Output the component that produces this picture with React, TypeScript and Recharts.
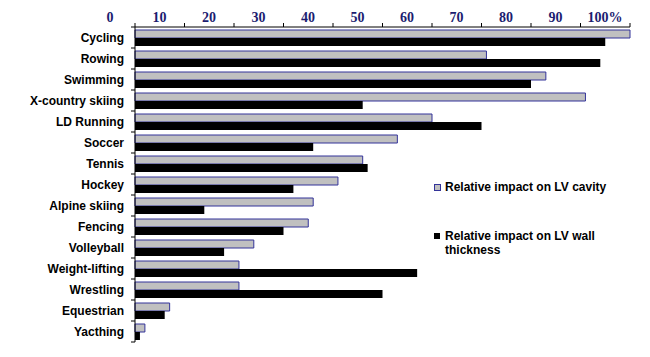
import React from "react";
import { BarChart, Bar, XAxis, YAxis } from "recharts";

// sports, top to bottom
const sports = [
    "Cycling",
    "Rowing",
    "Swimming",
    "X-country skiing",
    "LD Running",
    "Soccer",
    "Tennis",
    "Hockey",
    "Alpine skiing",
    "Fencing",
    "Volleyball",
    "Weight-lifting",
    "Wrestling",
    "Equestrian",
    "Yacthing",
];

// relative impact, % of max
const cavity = [100, 71, 83, 91, 60, 53, 46, 41, 36, 35, 24, 21, 21, 7, 2];
const wall = [95, 94, 80, 46, 70, 36, 47, 32, 14, 30, 18, 57, 50, 6, 1];

const xTicks = [0, 10, 20, 30, 40, 50, 60, 70, 80, 90, 100];

const cavityName = "Relative impact on LV cavity";
const wallName = "Relative impact on LV wall thickness";

const data = sports.map((name, i) => ({
    name,
    cavity: cavity[i],
    wall: wall[i],
}));

const NAVY = "#1c1c70";

function TopTick(props: any) {
    const { x, payload } = props;
    const v = payload.value;
    return (
        <text
            x={x - 25}
            y={22}
            textAnchor="middle"
            fill={NAVY}
            fontFamily="'Liberation Serif', 'Times New Roman', serif"
            fontWeight="bold"
            fontSize={14}
        >
            {v === 100 ? "100%" : v}
        </text>
    );
}

function SportTick(props: any) {
    const { x, y, payload, index } = props;
    const last = index === sports.length - 1;
    return (
        <g>
            <line x1={x + 7} x2={x + 11} y1={y - 10.5} y2={y - 10.5} stroke="#000" />
            {last && (
                <line x1={x + 7} x2={x + 11} y1={y + 10.5} y2={y + 10.5} stroke="#000" />
            )}
            <text
                x={x}
                y={y + 4}
                textAnchor="end"
                fill="#000"
                fontFamily="'Liberation Sans', Arial, sans-serif"
                fontWeight="bold"
                fontSize={12}
            >
                {payload.value}
            </text>
        </g>
    );
}

function LegendBox() {
    const font = {
        fontFamily: "'Liberation Sans', Arial, sans-serif",
        fontWeight: "bold" as const,
        fontSize: 12,
        lineHeight: "14px",
        color: "#000",
    };
    return (
        <div style={{ ...font, position: "absolute", left: 434, top: 180, width: 210 }}>
            <div style={{ display: "flex", alignItems: "flex-start" }}>
                <span
                    style={{
                        width: 5,
                        height: 5,
                        marginTop: 4,
                        marginRight: 4,
                        background: "#c0c0c0",
                        border: "1px solid #333399",
                        flexShrink: 0,
                    }}
                />
                <span>{cavityName}</span>
            </div>
            <div style={{ display: "flex", alignItems: "flex-start", marginTop: 35 }}>
                <span
                    style={{
                        width: 6,
                        height: 6,
                        marginTop: 4,
                        marginRight: 5,
                        background: "#000",
                        flexShrink: 0,
                    }}
                />
                <span style={{ width: 165 }}>{wallName}</span>
            </div>
        </div>
    );
}

export default function App() {
    return (
        <div style={{ position: "absolute", left: 0, top: 0, width: 650, height: 357, background: "#fff" }}>
            <BarChart
                width={650}
                height={357}
                data={data}
                layout="vertical"
                margin={{ top: 0, right: 20, left: 0, bottom: 15 }}
                barGap={0}
            >
                <XAxis
                    type="number"
                    orientation="top"
                    domain={[0, 100]}
                    ticks={xTicks}
                    height={27}
                    tickSize={4}
                    axisLine={{ stroke: "#000" }}
                    tickLine={{ stroke: "#000" }}
                    tick={<TopTick />}
                    interval={0}
                />
                <YAxis
                    type="category"
                    dataKey="name"
                    width={135}
                    tickSize={4}
                    tickMargin={7}
                    axisLine={{ stroke: "#000" }}
                    tickLine={false}
                    tick={<SportTick />}
                    interval={0}
                />
                <Bar
                    dataKey="cavity"
                    name={cavityName}
                    fill="#c0c0c0"
                    stroke="#333399"
                    strokeWidth={1}
                    barSize={8}
                    isAnimationActive={false}
                />
                <Bar
                    dataKey="wall"
                    name={wallName}
                    fill="#000"
                    barSize={8}
                    isAnimationActive={false}
                />
            </BarChart>
            <LegendBox />
        </div>
    );
}
